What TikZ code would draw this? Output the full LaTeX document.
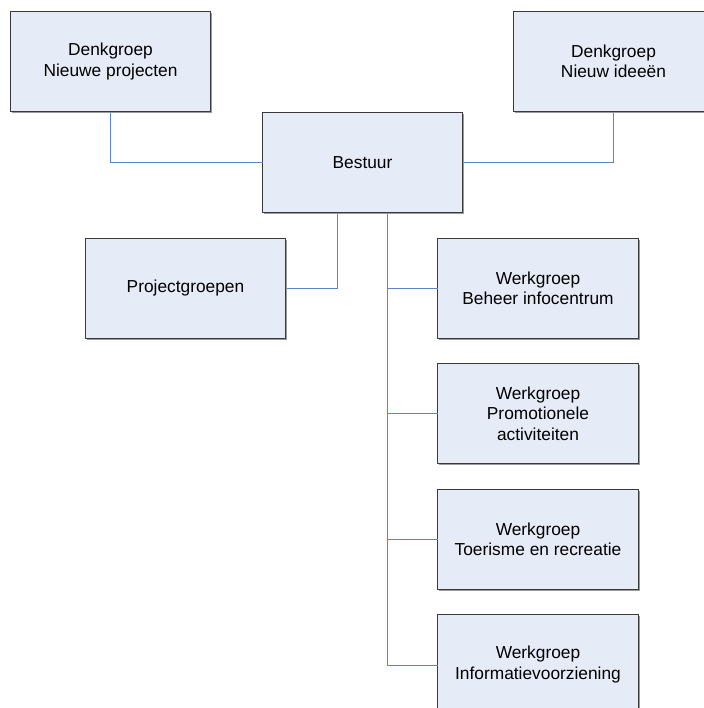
\documentclass[tikz,border=0pt]{standalone}
\usepackage{fontspec}
\setmainfont{Liberation Sans}
\definecolor{boxfill}{HTML}{E6ECF7}
\definecolor{boxline}{HTML}{3A3A3A}
\definecolor{shadowc}{HTML}{9A9A9A}
\definecolor{linkc}{HTML}{5A86CC}
\begin{document}
\begin{tikzpicture}[x=1bp,y=-1bp,
  orgbox/.style={draw=boxline, line width=1bp, fill=boxfill, minimum width=200bp, minimum height=100bp,
    align=center, inner sep=0pt, outer sep=0pt, font=\fontsize{17.4}{20.5}\selectfont, text=black},
  shadowline/.style={draw=shadowc, line width=1bp},
  link/.style={draw=linkc, line width=1.3bp}]
\clip (0,0) rectangle (704,708);
\fill[white] (0,0) rectangle (704,708);
\node[orgbox] (dnp) at (110.5,61.5) {Denkgroep\\Nieuwe projecten};
\node[orgbox] (dni) at (613.5,61.5) {Denkgroep\\Nieuw ideeën};
\node[orgbox] (bestuur) at (362.5,162.5) {Bestuur};
\node[orgbox] (proj) at (185.5,288.5) {Projectgroepen};
\node[orgbox, minimum width=201bp] (w1) at (538,288.5) {Werkgroep\\Beheer infocentrum};
\node[orgbox, minimum width=201bp] (w2) at (538,413.5) {Werkgroep\\Promotionele\\activiteiten};
\node[orgbox, minimum width=201bp] (w3) at (538,539.5) {Werkgroep\\Toerisme en recreatie};
\node[orgbox, minimum width=201bp] (w4) at (538,664.5) {Werkgroep\\Informatievoorziening};
\coordinate (b1) at (337.5,212.5);
\coordinate (b2) at (387.5,212.5);
\coordinate (t4) at (387.5,665.5);
\draw[link] (dnp.south) |- (bestuur.west);
\draw[link] (dni.south) |- (bestuur.east);
\draw[link] (b1) |- (proj.east);
\draw[link] (b2) -- (t4) -- (w4.west |- t4);
\draw[link] (w1.west -| b2) -- (w1.west);
\draw[link] (w2.west -| b2) -- (w2.west);
\draw[link] (w3.west -| b2) -- (w3.west);
\foreach \n in {dnp,dni,bestuur,proj,w1,w2,w3,w4}
  \draw[shadowline] ([shift={(1.5bp,-1bp)}]\n.south west) -- ([shift={(1bp,-1bp)}]\n.south east) -- ([shift={(1bp,-1.5bp)}]\n.north east);
\end{tikzpicture}
\end{document}
